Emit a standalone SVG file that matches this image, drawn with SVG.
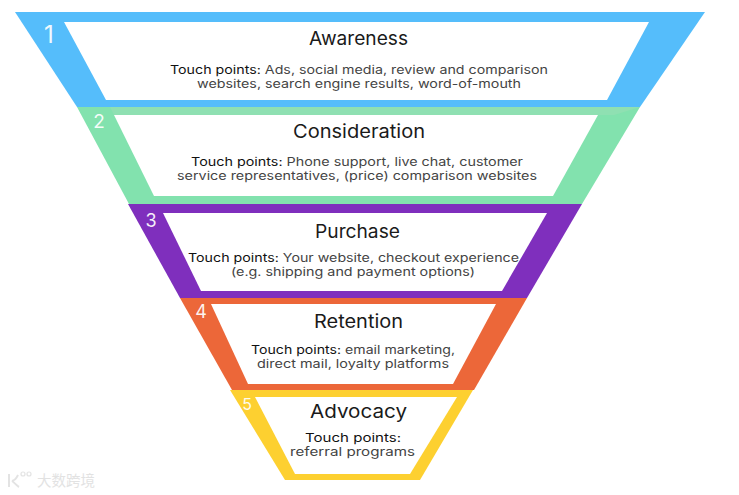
<svg xmlns="http://www.w3.org/2000/svg" width="739" height="495" viewBox="0 0 739 495">
<style>
text{font-family:"Inter","Lato","Liberation Sans",sans-serif}
.inner{fill:#fff}
.title{font-size:18.500px;fill:#1a1a1a;text-anchor:middle}
.body{font-size:11.500px;fill:#444;text-anchor:middle}
.tp{fill:#111}
.num{fill:#fff;text-anchor:middle;opacity:.92}
</style>
<rect width="739" height="495" fill="#fff"/>
<g id="stage-1">
<polygon points="15,12 705,12 640,107 77,107" fill="#55bdfb"/>
<polygon class="inner" points="64,22 649,22 607,100 106,100"/>
<text class="num" x="49" y="43" font-size="24">1</text>
<text class="title" x="358.500" y="45" textLength="99" lengthAdjust="spacingAndGlyphs">Awareness</text>
<text class="body" x="359" y="74" textLength="378" lengthAdjust="spacingAndGlyphs"><tspan class="tp">Touch points:</tspan> Ads, social media, review and comparison</text>
<text class="body" x="359" y="88" textLength="324" lengthAdjust="spacingAndGlyphs">websites, search engine results, word-of-mouth</text>
</g>
<g id="stage-2">
<polygon points="77,107 640,107 582,204 129,204" fill="#82e2ae"/>
<polygon points="110,107 640,107 614,115 114,115" fill="#8fe0b2"/>
<polygon class="inner" points="114,115 598,115 553,196 154,196"/>
<text class="num" x="99" y="128" font-size="19">2</text>
<text class="title" x="359" y="138" textLength="132" lengthAdjust="spacingAndGlyphs">Consideration</text>
<text class="body" x="357" y="166" textLength="332" lengthAdjust="spacingAndGlyphs"><tspan class="tp">Touch points:</tspan> Phone support, live chat, customer</text>
<text class="body" x="357" y="180" textLength="360" lengthAdjust="spacingAndGlyphs">service representatives, (price) comparison websites</text>
</g>
<g id="stage-3">
<polygon points="128,204 582,204 527,298 180,298" fill="#7f2fbd"/>
<polygon class="inner" points="163,213 547,213 502,291 201,291"/>
<text class="num" x="151" y="227" font-size="18">3</text>
<text class="title" x="357.500" y="238" textLength="85" lengthAdjust="spacingAndGlyphs">Purchase</text>
<text class="body" x="353.500" y="262" textLength="331" lengthAdjust="spacingAndGlyphs"><tspan class="tp">Touch points:</tspan> Your website, checkout experience</text>
<text class="body" x="353" y="276" textLength="244" lengthAdjust="spacingAndGlyphs">(e.g. shipping and payment options)</text>
</g>
<g id="stage-4">
<polygon points="180,298 527,298 474,390 232,390" fill="#ec6739"/>
<polygon class="inner" points="211,304 496,304 453,384 248,384"/>
<text class="num" x="201" y="318" font-size="18">4</text>
<text class="title" x="358.500" y="328" textLength="89" lengthAdjust="spacingAndGlyphs">Retention</text>
<text class="body" x="353" y="354" textLength="204" lengthAdjust="spacingAndGlyphs"><tspan class="tp">Touch points:</tspan> email marketing,</text>
<text class="body" x="353" y="368" textLength="192" lengthAdjust="spacingAndGlyphs">direct mail, loyalty platforms</text>
</g>
<g id="stage-5">
<polygon points="230,390 473,390 420,480 285,480" fill="#fdd030"/>
<polygon class="inner" points="255,397 457,397 410,474 295,474"/>
<text class="num" x="247" y="410" font-size="16">5</text>
<text class="title" x="358.500" y="418" textLength="97" lengthAdjust="spacingAndGlyphs">Advocacy</text>
<text class="body tp" x="353" y="442" textLength="96" lengthAdjust="spacingAndGlyphs">Touch points:</text>
<text class="body" x="352.500" y="456" textLength="125" lengthAdjust="spacingAndGlyphs">referral programs</text>
</g>
<g id="watermark" opacity=".8">
<path d="M9 474V487M12 481C16 480 17 477 18 475M12 481C15 483 17 486 19 487" fill="none" stroke="#ddd" stroke-width="2"/>
<circle cx="23" cy="474" r="2" fill="none" stroke="#ddd" stroke-width="1.200"/>
<circle cx="29" cy="474" r="2" fill="none" stroke="#ddd" stroke-width="1.200"/>
<text x="37" y="486" font-size="14.500" fill="#dcdcdc" style="font-family:'Noto Sans CJK SC',sans-serif">大数跨境</text>
</g>
</svg>
